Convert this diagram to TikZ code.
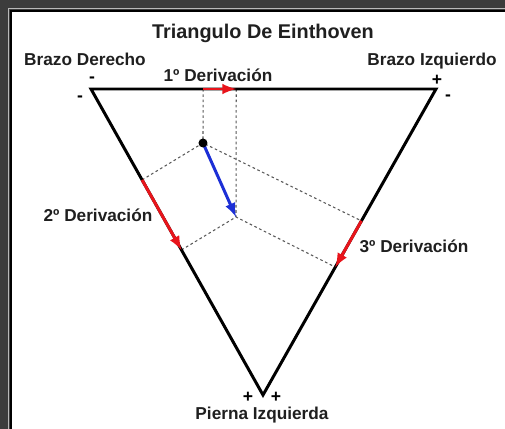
\documentclass[tikz,border=0pt]{standalone}
\usepackage{fontspec}
\setmainfont{Liberation Sans}
\usetikzlibrary{arrows,calc}
\definecolor{framegray}{HTML}{3C3C3C}
\definecolor{leadred}{HTML}{E8141B}
\definecolor{axisblue}{HTML}{1C2FD6}
\tikzset{
  lbl/.style={font=\bfseries\fontsize{9.8}{12}\selectfont, text=black!88, inner sep=0pt},
  sgn/.style={font=\bfseries\fontsize{10}{12}\selectfont, inner sep=0pt},
  proj/.style={gray!70!black, line width=0.6pt, dash pattern=on 1.5pt off 1.5pt},
  lead/.style={leadred, line width=1.7pt, -latex},
}
\begin{document}
\begin{tikzpicture}[x=0.02cm,y=-0.02cm]
    \useasboundingbox (0,0) rectangle (505,429);
    % frame
    \fill[framegray] (0,0) rectangle (505,429);
    \draw[gray!55, line width=0.6pt] (8.5,429) -- (8.5,8.5) -- (505,8.5);
    \fill[black] (10,10) rectangle (505,429);
    \fill[white] (12.5,12.5) rectangle (505,429);
    % vertices
    \coordinate (RA) at (91,89);
    \coordinate (LA) at (436,89);
    \coordinate (LL) at (263,395);
    \coordinate (P) at (203,143);
    \coordinate (Q) at (236,217);
    % feet of the projections
    \coordinate (i1) at ($(RA)!0.325!(LA)$);
    \coordinate (i2) at ($(RA)!0.421!(LA)$);
    \coordinate (ii1) at ($(RA)!0.297!(LL)$);
    \coordinate (ii2) at ($(RA)!0.526!(LL)$);
    \coordinate (iii1) at ($(LA)!0.431!(LL)$);
    \coordinate (iii2) at ($(LA)!0.582!(LL)$);
    % dashed projections
    \draw[proj] (i1) -- (P);
    \draw[proj] (i2) -- (Q);
    \draw[proj] (ii1) -- (P) -- (iii1);
    \draw[proj] (ii2) -- (Q) -- (iii2);
    % triangle
    \draw[line width=1.7pt, line join=miter] (RA) -- (LA) -- (LL) -- cycle;
    % leads
    \draw[lead] (i1) -- (i2);
    \draw[lead] (ii1) -- (ii2);
    \draw[lead] (iii1) -- (iii2);
    \draw[axisblue, line width=1.7pt, -latex] (P) -- (Q);
    \fill (P) circle (4.5);
    % labels
    \node[lbl, font=\bfseries\fontsize{11.3}{13}\selectfont] (title) at (263,33) {Triangulo De Einthoven};
    \node[lbl] (ralbl) at (85,59) {Brazo Derecho};
    \node[lbl] (lalbl) at (432,61) {Brazo Izquierdo};
    \node[lbl] (lead1) at (218,75) {1º Derivación};
    \node[lbl] (lead2) at (98,215) {2º Derivación};
    \node[lbl] (lead3) at (414,246) {3º Derivación};
    \node[lbl] (lllbl) at (262,415) {Pierna Izquierda};
    % signs
    \node[sgn] (ra1) at (92,80) {-};
    \node[sgn] (ra2) at (80,99) {-};
    \node[sgn] (la1) at (437,80) {+};
    \node[sgn] (la2) at (448,98) {-};
    \node[sgn] (ll1) at (248,397) {+};
    \node[sgn] (ll2) at (276,397) {+};
\end{tikzpicture}
\end{document}
